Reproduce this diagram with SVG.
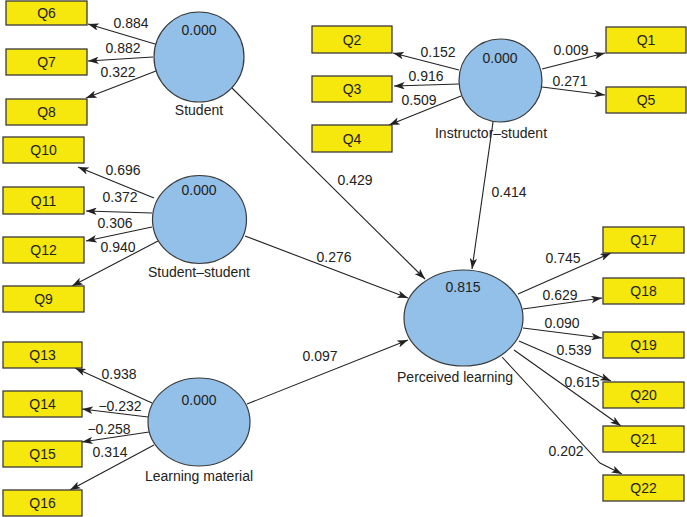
<svg xmlns="http://www.w3.org/2000/svg" width="687" height="517" viewBox="0 0 687 517">
<style>
.box{fill:#f6e70c;stroke:#3a3a3a;stroke-width:1.3}
.lv{fill:#92c0e8;stroke:#3a3a3a;stroke-width:1.2}
.t{font-family:"Liberation Sans",Arial,sans-serif;font-size:14px;fill:#222;text-anchor:middle}
.c{stroke:#222;stroke-width:1.1;fill:none;marker-end:url(#ah)}
</style>
<defs>
<marker id="ah" viewBox="0 0 10 7" refX="10" refY="3.5" markerWidth="11" markerHeight="7.5" markerUnits="userSpaceOnUse" orient="auto">
<path d="M0,0 L10,3.5 L0,7 L2.5,3.5 z" fill="#222"/>
</marker>
</defs>
<rect width="687" height="517" fill="#fff"/>

<g id="connectors">
<line class="c" x1="155" y1="44" x2="88" y2="24"/>
<line class="c" x1="153" y1="57" x2="88" y2="61"/>
<line class="c" x1="156" y1="71" x2="86" y2="98"/>
<line class="c" x1="459" y1="70" x2="393" y2="53"/>
<line class="c" x1="459" y1="84" x2="394" y2="86"/>
<line class="c" x1="461" y1="96" x2="389" y2="125"/>
<line class="c" x1="542" y1="69" x2="605" y2="53"/>
<line class="c" x1="542" y1="87" x2="605" y2="95"/>
<line class="c" x1="154" y1="198" x2="78" y2="167"/>
<line class="c" x1="152" y1="213" x2="86" y2="211"/>
<line class="c" x1="152" y1="227" x2="86" y2="241"/>
<line class="c" x1="158" y1="241" x2="72" y2="286"/>
<line class="c" x1="152" y1="403" x2="75" y2="368"/>
<line class="c" x1="148" y1="417" x2="82" y2="409"/>
<line class="c" x1="149" y1="432" x2="82" y2="442"/>
<line class="c" x1="154" y1="445" x2="70" y2="490"/>
<line class="c" x1="232" y1="88" x2="425" y2="279"/>
<line class="c" x1="245" y1="236" x2="408" y2="298"/>
<line class="c" x1="247" y1="404" x2="408" y2="340"/>
<line class="c" x1="493" y1="122" x2="472" y2="269"/>
<line class="c" x1="518" y1="294" x2="611" y2="253"/>
<line class="c" x1="523" y1="309" x2="602" y2="298"/>
<line class="c" x1="523" y1="328" x2="602" y2="338"/>
<line class="c" x1="519" y1="341" x2="611" y2="381"/>
<line class="c" x1="514" y1="350" x2="621" y2="426"/>
<polyline class="c" points="502,357 600,463 622,474"/>
<text class="t" x="131" y="28">0.884</text>
<text class="t" x="123" y="53">0.882</text>
<text class="t" x="118" y="77">0.322</text>
<text class="t" x="438" y="57">0.152</text>
<text class="t" x="426" y="81">0.916</text>
<text class="t" x="419" y="105">0.509</text>
<text class="t" x="571" y="55">0.009</text>
<text class="t" x="570" y="86">0.271</text>
<text class="t" x="123" y="175">0.696</text>
<text class="t" x="120" y="202">0.372</text>
<text class="t" x="115" y="228">0.306</text>
<text class="t" x="118" y="252">0.940</text>
<text class="t" x="119" y="379">0.938</text>
<text class="t" x="120" y="411">−0.232</text>
<text class="t" x="109" y="434">−0.258</text>
<text class="t" x="110" y="457">0.314</text>
<text class="t" x="355" y="185">0.429</text>
<text class="t" x="334" y="262">0.276</text>
<text class="t" x="320" y="361">0.097</text>
<text class="t" x="509" y="197">0.414</text>
<text class="t" x="563" y="263">0.745</text>
<text class="t" x="560" y="300">0.629</text>
<text class="t" x="562" y="328">0.090</text>
<text class="t" x="574" y="355">0.539</text>
<text class="t" x="582" y="387">0.615</text>
<text class="t" x="566" y="456">0.202</text>
</g>

<g id="student">
<ellipse class="lv" cx="199" cy="57" rx="45" ry="45"/>
<text class="t" x="199" y="35">0.000</text>
<text class="t" x="199" y="115">Student</text>
</g>
<g id="instructor-student">
<ellipse class="lv" cx="500.5" cy="80.5" rx="41.5" ry="41.5"/>
<text class="t" x="500" y="63">0.000</text>
<text class="t" x="491" y="138">Instructor–student</text>
</g>
<g id="student-student">
<ellipse class="lv" cx="199.5" cy="219.5" rx="47" ry="44"/>
<text class="t" x="199" y="195">0.000</text>
<text class="t" x="199" y="277">Student–student</text>
</g>
<g id="learning-material">
<ellipse class="lv" cx="199" cy="422" rx="51" ry="44"/>
<text class="t" x="199" y="405">0.000</text>
<text class="t" x="199" y="481">Learning material</text>
</g>
<g id="perceived-learning">
<ellipse class="lv" cx="463.5" cy="318" rx="59.5" ry="48"/>
<text class="t" x="463" y="292">0.815</text>
<text class="t" x="455" y="382">Perceived learning</text>
</g>

<g id="Q6"><rect class="box" x="6" y="1" width="81" height="24"/><text class="t" x="46.5" y="18">Q6</text></g>
<g id="Q7"><rect class="box" x="6" y="49" width="81" height="26"/><text class="t" x="46.5" y="67">Q7</text></g>
<g id="Q8"><rect class="box" x="6" y="99" width="81" height="26"/><text class="t" x="46.5" y="117">Q8</text></g>
<g id="Q10"><rect class="box" x="3" y="137" width="81" height="26"/><text class="t" x="43.5" y="155">Q10</text></g>
<g id="Q11"><rect class="box" x="3" y="187" width="81" height="27"/><text class="t" x="43.5" y="205.5">Q11</text></g>
<g id="Q12"><rect class="box" x="3" y="237" width="81" height="26"/><text class="t" x="43.5" y="255">Q12</text></g>
<g id="Q9"><rect class="box" x="3" y="286" width="81" height="26"/><text class="t" x="43.5" y="304">Q9</text></g>
<g id="Q13"><rect class="box" x="3" y="342" width="79" height="26"/><text class="t" x="42.5" y="360">Q13</text></g>
<g id="Q14"><rect class="box" x="3" y="391" width="79" height="26"/><text class="t" x="42.5" y="409">Q14</text></g>
<g id="Q15"><rect class="box" x="3" y="441" width="79" height="26"/><text class="t" x="42.5" y="459">Q15</text></g>
<g id="Q16"><rect class="box" x="3" y="490" width="79" height="26"/><text class="t" x="42.5" y="508">Q16</text></g>
<g id="Q2"><rect class="box" x="312" y="26" width="80" height="27"/><text class="t" x="352" y="44.5">Q2</text></g>
<g id="Q3"><rect class="box" x="312" y="76" width="80" height="26"/><text class="t" x="352" y="94">Q3</text></g>
<g id="Q4"><rect class="box" x="312" y="125" width="80" height="27"/><text class="t" x="352" y="143.5">Q4</text></g>
<g id="Q1"><rect class="box" x="606" y="27" width="80" height="26"/><text class="t" x="646" y="45">Q1</text></g>
<g id="Q5"><rect class="box" x="606" y="87" width="80" height="26"/><text class="t" x="646" y="105">Q5</text></g>
<g id="Q17"><rect class="box" x="603" y="227" width="81" height="26"/><text class="t" x="643.5" y="245">Q17</text></g>
<g id="Q18"><rect class="box" x="603" y="278" width="81" height="26"/><text class="t" x="643.5" y="296">Q18</text></g>
<g id="Q19"><rect class="box" x="603" y="332" width="81" height="26"/><text class="t" x="643.5" y="350">Q19</text></g>
<g id="Q20"><rect class="box" x="603" y="382" width="81" height="26"/><text class="t" x="643.5" y="400">Q20</text></g>
<g id="Q21"><rect class="box" x="603" y="426" width="81" height="26"/><text class="t" x="643.5" y="444">Q21</text></g>
<g id="Q22"><rect class="box" x="603" y="475" width="81" height="26"/><text class="t" x="643.5" y="493">Q22</text></g>
</svg>
